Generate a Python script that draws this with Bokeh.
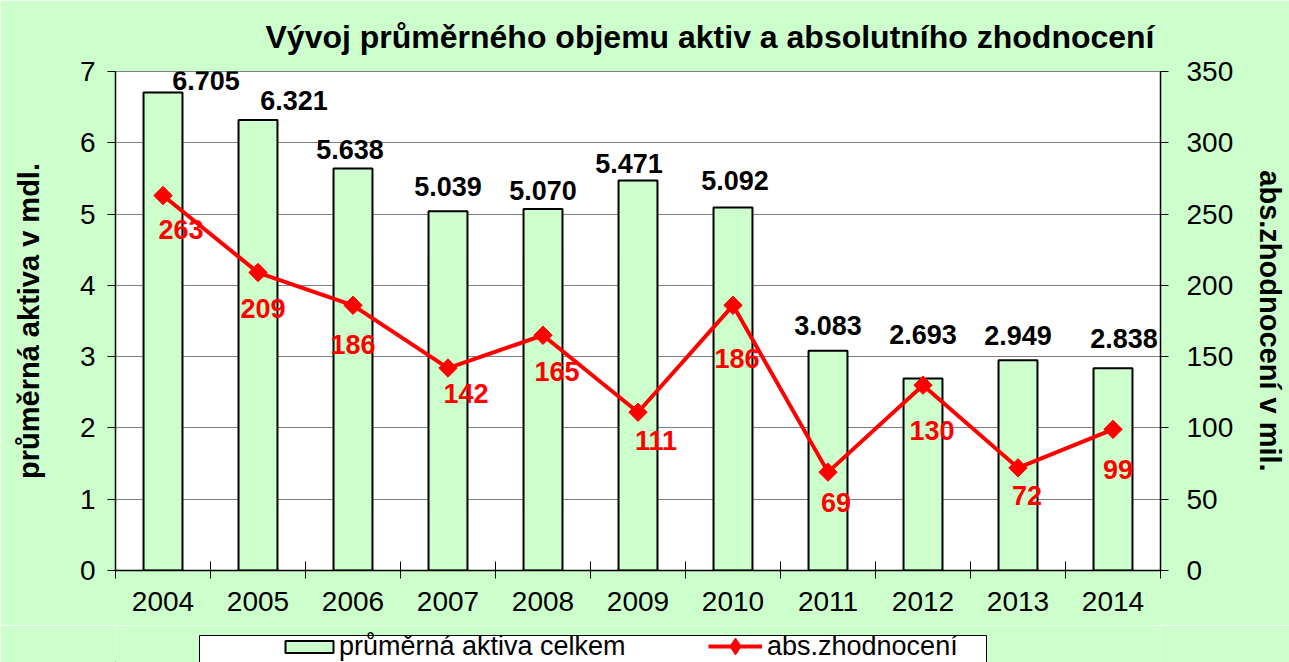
import math
from bokeh.plotting import figure
from bokeh.layouts import column
from bokeh.models import (ColumnDataSource, Range1d, LinearAxis, FixedTicker, Legend,
                          LegendItem, Title)
from bokeh.embed import file_html
from bokeh.resources import INLINE
from bokeh.core.properties import value

# ---------------- data ----------------
years = ["2004", "2005", "2006", "2007", "2008", "2009", "2010", "2011", "2012", "2013", "2014"]
assets = [6.705, 6.321, 5.638, 5.039, 5.070, 5.471, 5.092, 3.083, 2.693, 2.949, 2.838]
gains = [263, 209, 186, 142, 165, 111, 186, 69, 130, 72, 99]
left_ticks = [0, 1, 2, 3, 4, 5, 6, 7]
right_ticks = [0, 50, 100, 150, 200, 250, 300, 350]

title_text = "Vývoj průměrného objemu aktiv a absolutního zhodnocení"
left_label = "průměrná aktiva v mdl."
right_label = "abs.zhodnocení v mil."
bar_name = "průměrná aktiva celkem"
line_name = "abs.zhodnocení"

# label placement tweaks (screen pixels)
bar_label_dx = [43, 36, -3, 0, 0, -9, 2, 0, 0, 0, 11]
bar_label_gap = [3, 10, 10, 16, 10, 8, 18, 16, 35, 16, 21]
line_label_dx = [18, 5, 0, 18, 14, 18, 4, 8, 9, 9, 5]
line_label_dy = [34, 36, 39, 25, 36, 28, 53, 30, 45, 28, 40]

FONT = "Liberation Sans"
GREEN = "#CCFFCC"
RED = "#FF0000"
W = 1289
BL, BR = 115, 129   # left / right borders around the plotting frame

xs = list(range(len(years)))
src = ColumnDataSource(dict(
    x=xs,
    assets=assets,
    gains=gains,
    asset_txt=["%.3f" % v for v in assets],
    gain_txt=[str(g) for g in gains],
    bdx=bar_label_dx,
    bdy=[-(g + 9) for g in bar_label_gap],
    ldx=line_label_dx,
    ldy=line_label_dy,
))

# ---------------- main chart ----------------
p = figure(width=W, height=625,
           x_range=Range1d(-0.5, len(years) - 0.5), y_range=Range1d(0, 7),
           output_backend="svg", toolbar_location=None,
           min_border_left=BL, min_border_right=BR, min_border_top=68, min_border_bottom=55,
           background_fill_color="white", border_fill_color=GREEN)
p.extra_y_ranges = {"r": Range1d(0, 350)}
p.outline_line_color = "#808080"
p.outline_line_width = 1

p.title = Title(text=title_text, text_font=FONT, text_font_size="32px",
                text_font_style="bold", text_color="black", align="left",
                offset=150, standoff=33)

p.xgrid.visible = False
p.ygrid.ticker = FixedTicker(ticks=left_ticks)
p.ygrid.grid_line_color = "#808080"
p.ygrid.grid_line_width = 1

xa = p.xaxis[0]
xa.ticker = FixedTicker(ticks=xs, minor_ticks=[i - 0.5 for i in range(len(years) + 1)])
xa.major_label_overrides = {i: y for i, y in zip(xs, years)}
xa.major_tick_in = 0
xa.major_tick_out = 0
xa.minor_tick_in = 9
xa.minor_tick_out = 8
xa.minor_tick_line_color = "black"
xa.axis_line_color = "black"
xa.axis_line_width = 1.5
xa.major_label_text_font = FONT
xa.major_label_text_font_size = "28px"
xa.major_label_text_color = "black"
xa.major_label_standoff = 13

ya = p.yaxis[0]
ya.ticker = FixedTicker(ticks=left_ticks)
ya.axis_label = left_label
ya.axis_label_text_font = FONT
ya.axis_label_text_font_size = "29px"
ya.axis_label_text_font_style = "bold"
ya.axis_label_text_color = "black"
ya.axis_label_standoff = 32
ya.major_label_text_font = FONT
ya.major_label_text_font_size = "28px"
ya.major_label_text_color = "black"
ya.major_label_standoff = 12
ya.major_tick_in = 0
ya.major_tick_out = 8
ya.minor_tick_in = 0
ya.minor_tick_out = 0
ya.major_tick_line_color = "black"
ya.axis_line_color = "black"
ya.axis_line_width = 1.5

ra = LinearAxis(y_range_name="r", ticker=FixedTicker(ticks=right_ticks))
ra.axis_label = right_label
ra.axis_label_text_font = FONT
ra.axis_label_text_font_size = "29px"
ra.axis_label_text_font_style = "bold"
ra.axis_label_text_color = "black"
ra.axis_label_standoff = 18
ra.major_label_text_font = FONT
ra.major_label_text_font_size = "28px"
ra.major_label_text_color = "black"
ra.major_label_standoff = 18
ra.major_tick_in = 0
ra.major_tick_out = 8
ra.minor_tick_in = 0
ra.minor_tick_out = 0
ra.major_tick_line_color = "black"
ra.axis_line_color = "black"
ra.axis_line_width = 1.5
p.add_layout(ra, "right")

bar_style = dict(fill_color=GREEN, line_color="black", line_width=2)
line_style = dict(line_color=RED, line_width=4)
pt_style = dict(marker="square", size=13, angle=math.pi / 4, fill_color=RED, line_color=RED)

p.vbar(x="x", top="assets", width=0.41, source=src, **bar_style)
p.line(x="x", y="gains", y_range_name="r", source=src, **line_style)
p.scatter(x="x", y="gains", y_range_name="r", source=src, **pt_style)

p.text(x="x", y="assets", text="asset_txt", source=src, x_offset="bdx", y_offset="bdy",
       text_font=value(FONT), text_font_size="27px", text_font_style="bold",
       text_color="black", text_align="center", text_baseline="alphabetic")
p.text(x="x", y="gains", text="gain_txt", source=src, y_range_name="r",
       x_offset="ldx", y_offset="ldy",
       text_font=value(FONT), text_font_size="27px", text_font_style="bold",
       text_color=RED, text_align="center", text_baseline="middle")

# ---------------- legend strip (cut by the bottom edge, like the original) ----------------
LH = 37
lf = figure(width=W, height=LH, x_range=Range1d(BL, W - BR), y_range=Range1d(0, LH),
            output_backend="svg", toolbar_location=None,
            x_axis_location=None, y_axis_location=None,
            min_border=0, min_border_left=BL, min_border_right=BR,
            min_border_top=0, min_border_bottom=0,
            background_fill_color=GREEN, border_fill_color=GREEN, outline_line_color=None)
lf.grid.visible = False
lf.quad(left=[199], right=[986], top=[LH - 10], bottom=[-10],
        fill_color="white", line_color="black", line_width=1)
# legend-only renderers, kept outside the visible range
off = ColumnDataSource(dict(x=[-1000, -999], y=[0, 0]))
lbar = lf.vbar(x="x", top="y", width=1, source=off, **bar_style)
lline = lf.line(x="x", y="y", source=off, **line_style)
lpts = lf.scatter(x="x", y="y", source=off, marker="diamond",
                  fill_color=RED, line_color=RED)

leg1 = Legend(items=[LegendItem(label=bar_name, renderers=[lbar])],
              location=(279 - BL, 0), orientation="horizontal", padding=0, margin=0,
              glyph_width=60, glyph_height=15, label_standoff=0,
              label_text_font=FONT, label_text_font_size="27px", label_text_color="black",
              border_line_alpha=0, background_fill_alpha=0)
leg2 = Legend(items=[LegendItem(label=line_name, renderers=[lline, lpts])],
              location=(708 - BL, -5), orientation="horizontal", padding=0, margin=0,
              glyph_width=54, glyph_height=42, label_standoff=5,
              label_text_font=FONT, label_text_font_size="27px", label_text_color="black",
              border_line_alpha=0, background_fill_alpha=0)
lf.add_layout(leg1)
lf.add_layout(leg2)

layout = column(p, lf, spacing=0)
open("out.html", "w").write(file_html(layout, INLINE))
